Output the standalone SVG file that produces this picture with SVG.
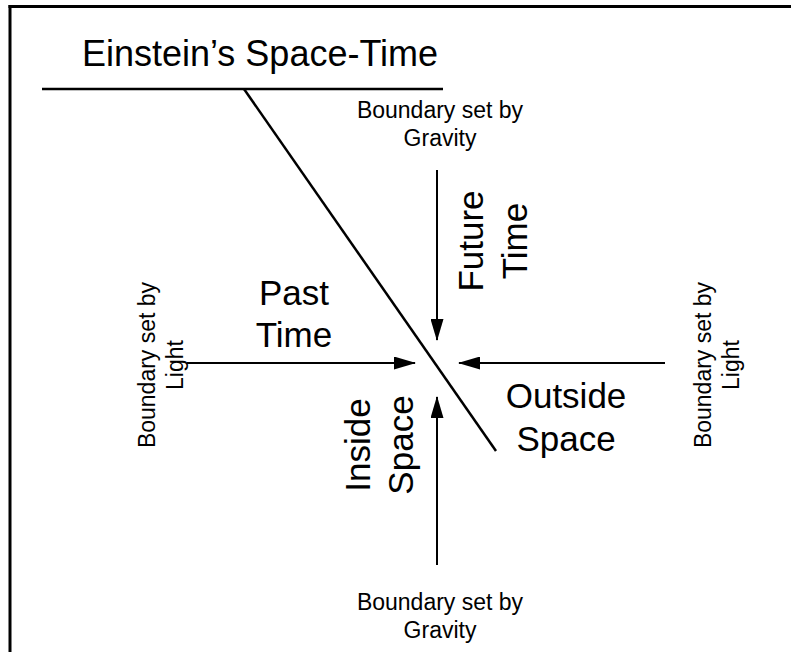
<svg xmlns="http://www.w3.org/2000/svg" width="791" height="652" viewBox="0 0 791 652">
<defs>
<marker id="ah" markerWidth="22" markerHeight="13" refX="21" refY="6.5" orient="auto" markerUnits="userSpaceOnUse">
<path d="M0,0 L22,6.5 L0,13 Z" fill="#000"/>
</marker>
<style>
.t{font-family:"Liberation Sans",Arial,sans-serif;fill:#000;text-anchor:middle}
.big{font-size:35px}
.sm{font-size:23px}
.ln{stroke:#000;stroke-width:2.5;fill:none}
.ar{stroke:#000;stroke-width:2;fill:none;marker-end:url(#ah)}
</style>
</defs>
<rect width="791" height="652" fill="#fff"/>
<g id="frame">
<line class="ln" x1="8.5" y1="6.5" x2="791" y2="6.5" style="stroke-width:3"/>
<line class="ln" x1="10" y1="5" x2="10" y2="652" style="stroke-width:3"/>
</g>
<g id="title">
<text class="t" x="260" y="66" style="font-size:36px">Einstein’s Space-Time</text>
<line class="ln" x1="42" y1="89" x2="443" y2="89"/>
</g>
<g id="spacetime-line">
<line class="ln" x1="244" y1="89" x2="496" y2="451"/>
</g>
<g id="connectors">
<line class="ar" x1="437" y1="170" x2="437" y2="340"/>
<line class="ar" x1="437" y1="565" x2="437" y2="397"/>
<line class="ar" x1="187" y1="363" x2="415" y2="363"/>
<line class="ar" x1="665" y1="363" x2="459" y2="363"/>
</g>
<g id="gravity-top">
<text class="t sm" x="440" y="118">Boundary set by</text>
<text class="t sm" x="440" y="146">Gravity</text>
</g>
<g id="gravity-bottom">
<text class="t sm" x="440" y="610">Boundary set by</text>
<text class="t sm" x="440" y="638">Gravity</text>
</g>
<g id="light-left">
<text class="t sm" transform="translate(155,365) rotate(-90)">Boundary set by</text>
<text class="t sm" transform="translate(183,365) rotate(-90)">Light</text>
</g>
<g id="light-right">
<text class="t sm" transform="translate(711,365) rotate(-90)">Boundary set by</text>
<text class="t sm" transform="translate(739,365) rotate(-90)">Light</text>
</g>
<g id="future-time">
<text class="t big" transform="translate(483,241) rotate(-90)">Future</text>
<text class="t big" transform="translate(527,241) rotate(-90)">Time</text>
</g>
<g id="past-time">
<text class="t big" x="294" y="305">Past</text>
<text class="t big" x="294" y="347">Time</text>
</g>
<g id="outside-space">
<text class="t big" x="566" y="408">Outside</text>
<text class="t big" x="566" y="451">Space</text>
</g>
<g id="inside-space">
<text class="t big" transform="translate(370,445) rotate(-90)">Inside</text>
<text class="t big" transform="translate(413,445) rotate(-90)">Space</text>
</g>
</svg>
